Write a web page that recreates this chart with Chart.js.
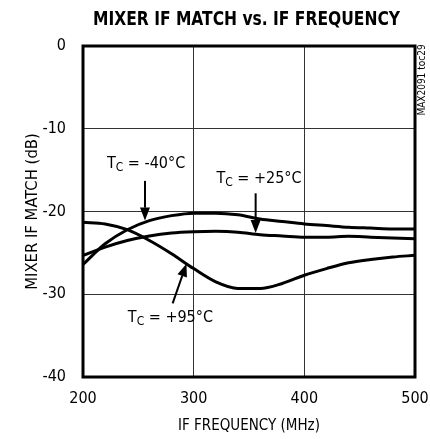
<!DOCTYPE html>
<html>
<head>
<meta charset="utf-8">
<script src="https://cdn.jsdelivr.net/npm/chart.js@4.4.1/dist/chart.umd.min.js"></script>
<style>
  html, body { margin: 0; padding: 0; background: #fff; }
  #wrap { width: 430px; height: 439px; position: relative; }
</style>
</head>
<body>
<div id="wrap"><canvas id="matchChart" width="430" height="439"></canvas></div>
<script>
// chart data
const freqMHz = [200, 220, 240, 260, 280, 300, 320, 340, 360, 380, 400, 420, 440, 460, 480, 500];
const tcMinus40 = [-26.4, -23.9, -22.2, -21.1, -20.5, -20.2, -20.2, -20.4, -20.9, -21.2, -21.5, -21.7, -21.9, -22.0, -22.1, -22.1];
const tcPlus25 = [-25.3, -24.3, -23.5, -22.95, -22.6, -22.45, -22.4, -22.5, -22.8, -22.95, -23.1, -23.1, -23.0, -23.1, -23.2, -23.3];
const tcPlus95 = [-21.3, -21.5, -22.2, -23.5, -25.1, -26.9, -28.5, -29.3, -29.3, -28.7, -27.7, -26.9, -26.2, -25.8, -25.5, -25.3];
const xTicks = [200, 300, 400, 500];
const yTicks = [0, -10, -20, -30, -40];

const NARROW = "'DejaVu Sans Condensed', 'DejaVu Sans', sans-serif";

// labels: label centre, arrow tail, arrow head, all in data units
const curveLabels = [
    { temp: '-40°C', at: [257, -14.3], from: [256, -16.3], to: [256, -21.1] },
    { temp: '+25°C', at: [359, -16.0], from: [356, -17.8], to: [356, -22.6] },
    { temp: '+95°C', at: [279, -32.8], from: [281, -31.1], to: [293.5, -26.3] }
];

function toPoints(ys) {
    return freqMHz.map((f, i) => ({ x: f, y: ys[i] }));
}

function drawArrow(ctx, x1, y1, x2, y2) {
    const ang = Math.atan2(y2 - y1, x2 - x1);
    const headLen = 13, headW = 5;
    const bx = x2 - Math.cos(ang) * headLen, by = y2 - Math.sin(ang) * headLen;
    ctx.beginPath();
    ctx.moveTo(x1, y1);
    ctx.lineTo(bx, by);
    ctx.lineWidth = 2;
    ctx.stroke();
    ctx.beginPath();
    ctx.moveTo(x2, y2);
    ctx.lineTo(bx + Math.sin(ang) * headW, by - Math.cos(ang) * headW);
    ctx.lineTo(bx - Math.sin(ang) * headW, by + Math.cos(ang) * headW);
    ctx.closePath();
    ctx.fill();
}

const decorPlugin = {
    id: 'decor',
    afterDraw(chart) {
        const ctx = chart.ctx;
        const area = chart.chartArea;
        const xs = chart.scales.x, ys = chart.scales.y;
        ctx.save();

        // frame
        ctx.strokeStyle = '#000';
        ctx.lineWidth = 3;
        ctx.strokeRect(area.left, area.top, area.right - area.left, area.bottom - area.top);

        // title, squeezed to the reference width
        const title = 'MIXER IF MATCH vs. IF FREQUENCY';
        ctx.font = "bold 20px 'DejaVu Sans Condensed', 'DejaVu Sans', sans-serif";
        const w = ctx.measureText(title).width;
        const sx = 307 / w;
        ctx.save();
        ctx.translate(246.5, 19.5);
        ctx.scale(sx, 1);
        ctx.fillStyle = '#000';
        ctx.textAlign = 'center';
        ctx.textBaseline = 'middle';
        ctx.fillText(title, 0, 0);
        ctx.restore();

        // side code
        ctx.save();
        ctx.translate(422.5, 80);
        ctx.rotate(-Math.PI / 2);
        ctx.font = '10px ' + NARROW;
        ctx.fillStyle = '#000';
        ctx.textAlign = 'center';
        ctx.textBaseline = 'middle';
        ctx.fillText('MAX2091 toc29', 0, 0);
        ctx.restore();

        // curve labels with arrows
        ctx.fillStyle = '#000';
        ctx.strokeStyle = '#000';
        curveLabels.forEach(lb => {
            const px = xs.getPixelForValue(lb.at[0]);
            const py = ys.getPixelForValue(lb.at[1]);
            const big = '16px ' + NARROW, small = '12px ' + NARROW;
            ctx.font = big;
            const rest = ' = ' + lb.temp;
            const wT = ctx.measureText('T').width;
            const wR = ctx.measureText(rest).width;
            ctx.font = small;
            const wC = ctx.measureText('C').width;
            const x0 = px - (wT + wC + wR) / 2;
            ctx.textAlign = 'left';
            ctx.textBaseline = 'middle';
            ctx.font = big;
            ctx.fillText('T', x0, py);
            ctx.font = small;
            ctx.fillText('C', x0 + wT, py + 4);
            ctx.font = big;
            ctx.fillText(rest, x0 + wT + wC, py);

            drawArrow(ctx,
                xs.getPixelForValue(lb.from[0]), ys.getPixelForValue(lb.from[1]),
                xs.getPixelForValue(lb.to[0]), ys.getPixelForValue(lb.to[1]));
        });
        ctx.restore();
    }
};

const lineStyle = {
    borderColor: '#000',
    borderWidth: 3,
    pointRadius: 0,
    fill: false,
    tension: 0.4,
    cubicInterpolationMode: 'monotone'
};

new Chart(document.getElementById('matchChart'), {
    type: 'line',
    data: {
        datasets: [
            Object.assign({ label: 'TC = -40°C', data: toPoints(tcMinus40) }, lineStyle),
            Object.assign({ label: 'TC = +25°C', data: toPoints(tcPlus25) }, lineStyle),
            Object.assign({ label: 'TC = +95°C', data: toPoints(tcPlus95) }, lineStyle)
        ]
    },
    options: {
        responsive: false,
        animation: false,
        layout: { padding: { top: 46, right: 15, bottom: 0, left: 0 } },
        plugins: {
            legend: { display: false },
            title: { display: false },
            tooltip: { enabled: false }
        },
        scales: {
            x: {
                type: 'linear',
                min: 200,
                max: 500,
                afterBuildTicks: s => { s.ticks = xTicks.map(v => ({ value: v })); },
                // "500" may hang past the frame, as in the reference
                afterFit: s => { s.height = 62; s.paddingRight = 0; },
                ticks: { color: '#000', font: { size: 16, family: NARROW }, padding: 12, maxRotation: 0 },
                grid: { color: '#333', lineWidth: 1, drawTicks: false },
                border: { display: false },
                title: {
                    display: true,
                    text: 'IF FREQUENCY (MHz)',
                    color: '#000',
                    font: { size: 15, family: NARROW },
                    padding: { top: 0, bottom: 4 }
                }
            },
            y: {
                type: 'linear',
                min: -40,
                max: 0,
                afterBuildTicks: s => { s.ticks = yTicks.map(v => ({ value: v })); },
                afterFit: s => { s.width = 83; },
                ticks: { color: '#000', font: { size: 16, family: NARROW }, padding: 17 },
                grid: { color: '#333', lineWidth: 1, drawTicks: false },
                border: { display: false },
                title: {
                    display: true,
                    text: 'MIXER IF MATCH (dB)',
                    color: '#000',
                    font: { size: 16.5, family: NARROW },
                    padding: { top: 23, bottom: 0 }
                }
            }
        }
    },
    plugins: [decorPlugin]
});
</script>
</body>
</html>
